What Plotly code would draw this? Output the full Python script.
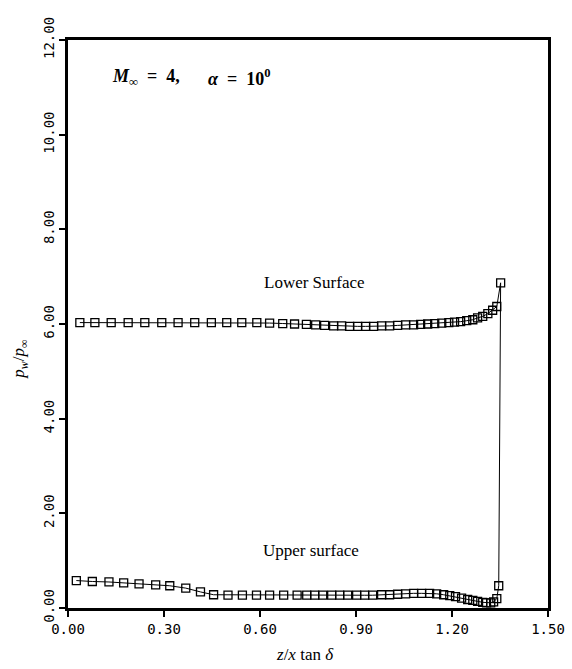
import plotly.graph_objects as go

# Lower surface (x ascending)
lower_x = [0.037, 0.084, 0.135, 0.188, 0.240, 0.293, 0.344, 0.396, 0.448, 0.496,
           0.543, 0.590, 0.630, 0.671, 0.708, 0.745, 0.774, 0.802, 0.830, 0.855,
           0.880, 0.905, 0.930, 0.955, 0.980, 1.005, 1.030, 1.055, 1.080, 1.102,
           1.124, 1.146, 1.168, 1.190, 1.208, 1.227, 1.246, 1.265, 1.280, 1.296,
           1.312, 1.327, 1.340, 1.352]
lower_y = [6.03, 6.03, 6.03, 6.03, 6.03, 6.03, 6.03, 6.03, 6.03, 6.03,
           6.03, 6.03, 6.02, 6.01, 6.00, 5.99, 5.98, 5.97, 5.96, 5.96,
           5.95, 5.95, 5.95, 5.95, 5.96, 5.96, 5.97, 5.98, 5.98, 5.99,
           6.00, 6.01, 6.02, 6.03, 6.04, 6.05, 6.07, 6.09, 6.13, 6.16,
           6.22, 6.29, 6.37, 6.87]

# Upper surface (x ascending)
upper_x = [0.026, 0.076, 0.128, 0.174, 0.222, 0.274, 0.318, 0.368, 0.414, 0.455,
           0.500, 0.545, 0.589, 0.630, 0.674, 0.716, 0.746, 0.771, 0.796, 0.824,
           0.849, 0.874, 0.902, 0.927, 0.952, 0.980, 1.005, 1.030, 1.055, 1.080,
           1.105, 1.130, 1.152, 1.174, 1.193, 1.211, 1.230, 1.249, 1.265, 1.280,
           1.296, 1.308, 1.321, 1.330, 1.340, 1.346]
upper_y = [0.58, 0.56, 0.55, 0.53, 0.51, 0.49, 0.47, 0.42, 0.34, 0.28,
           0.27, 0.27, 0.27, 0.27, 0.27, 0.27, 0.27, 0.27, 0.27, 0.27,
           0.27, 0.27, 0.27, 0.27, 0.27, 0.28, 0.28, 0.29, 0.30, 0.31,
           0.31, 0.31, 0.30, 0.28, 0.26, 0.24, 0.21, 0.18, 0.16, 0.14,
           0.12, 0.11, 0.11, 0.13, 0.20, 0.47]

x_ticks = [0.0, 0.3, 0.6, 0.9, 1.2, 1.5]
y_ticks = [0, 2, 4, 6, 8, 10, 12]

# one closed curve: lower surface outward, then upper surface back
curve_x = lower_x + upper_x[::-1]
curve_y = lower_y + upper_y[::-1]

fig = go.Figure()
fig.add_trace(go.Scatter(
    x=curve_x, y=curve_y, mode="lines+markers",
    line=dict(color="black", width=1),
    marker=dict(symbol="square-open", size=8, color="black", line=dict(width=1.3)),
    showlegend=False,
))

tickfont = dict(family="DejaVu Sans Mono", size=14, color="black")
serif = "Liberation Serif, DejaVu Serif, serif"

fig.update_xaxes(range=[0, 1.5], tickvals=x_ticks, tickformat=".2f",
                 ticks="outside", ticklen=6, tickwidth=1.5, tickcolor="black",
                 showline=True, linecolor="black", linewidth=2.5, mirror=True,
                 showgrid=False, zeroline=False, tickfont=tickfont, automargin=False)
fig.update_yaxes(range=[0, 12], tickvals=y_ticks, tickformat=".2f",
                 ticks="outside", ticklen=6, tickwidth=1.5, tickcolor="black",
                 tickangle=-90,
                 showline=True, linecolor="black", linewidth=2.5, mirror=True,
                 showgrid=False, zeroline=False, tickfont=tickfont, automargin=False)

annotations = [
    dict(text="<b><i>M</i><sub>∞</sub> &nbsp;= &nbsp;4,</b>",
         x=0.13, y=11.2, xref="x", yref="y", xanchor="left", yanchor="middle",
         showarrow=False, font=dict(family=serif, size=18, color="black")),
    dict(text="<b><i>α</i> &nbsp;= &nbsp;10<sup>0</sup></b>",
         x=0.43, y=11.2, xref="x", yref="y", xanchor="left", yanchor="middle",
         showarrow=False, font=dict(family=serif, size=18, color="black")),
    dict(text="Lower Surface", x=0.77, y=6.87, xref="x", yref="y",
         showarrow=False, font=dict(family=serif, size=17, color="black")),
    dict(text="Upper surface", x=0.76, y=1.22, xref="x", yref="y",
         showarrow=False, font=dict(family=serif, size=17, color="black")),
    dict(text="<i>z</i>/<i>x</i> tan <i>δ</i>", x=0.494, y=0, xref="paper", yref="paper",
         yshift=-46, yanchor="middle", showarrow=False,
         font=dict(family=serif, size=17, color="black")),
    dict(text="<i>p</i><sub><i>w</i></sub>/<i>p</i><sub>∞</sub>", x=0, y=0.437,
         xref="paper", yref="paper", xshift=-48, xanchor="center", yanchor="middle",
         textangle=-90, showarrow=False, font=dict(family=serif, size=17, color="black")),
]

fig.update_layout(
    width=572, height=669,
    margin=dict(l=68, r=24, t=40, b=61),
    plot_bgcolor="white", paper_bgcolor="white",
    annotations=annotations,
)

fig.write_html("out.html", config={"displayModeBar": False},
               post_script="document.body.style.margin='0';document.body.style.padding='0';")
